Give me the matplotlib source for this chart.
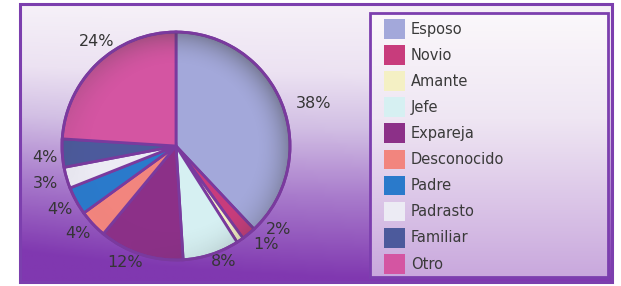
import matplotlib
matplotlib.use("Agg")
import matplotlib.pyplot as plt
import numpy as np
from matplotlib.colors import LinearSegmentedColormap
from matplotlib.patches import Rectangle, Circle

plt.rcParams["font.family"] = ["DejaVu Sans"]

# data
categories = ["Esposo", "Novio", "Amante", "Jefe", "Expareja",
              "Desconocido", "Padre", "Padrasto", "Familiar", "Otro"]
percent = [38, 2, 1, 8, 12, 4, 4, 3, 4, 24]
colors = ["#a3a8da", "#c83c7c", "#f4f0c4", "#d6f0f2", "#8c3088",
          "#f2857e", "#2a7acb", "#ecebf4", "#4c5a9c", "#d455a2"]

# label placement tweaks (angle shift in degrees, distance in radii)
label_shift = [-4.5, 11, 8.5, 4.5, -5.5, -1.5, 0, 0, 1.5, -6]
label_dist = [1.26, 1.16, 1.17, 1.10, 1.11, 1.15, 1.16, 1.19, 1.15, 1.15]

W, H = 621, 286
fig = plt.figure(figsize=(W / 100, H / 100), dpi=100)
fig.patch.set_facecolor("white")


def px_box(x0, y0, x1, y1):
    # pixel box (top-left origin) -> figure fraction rect
    return [x0 / W, 1 - y1 / H, (x1 - x0) / W, (y1 - y0) / H]


# gradient background inside the frame
bg = fig.add_axes(px_box(20, 4, 612, 282))
bg.set_axis_off()
bg_cmap = LinearSegmentedColormap.from_list(
    "bg", [(0.0, "#f6f1f8"), (0.25, "#ece2f2"), (0.45, "#d2bfe4"),
           (0.7, "#a97ccc"), (1.0, "#8038b0")])
yy = np.linspace(0, 1, 256)[:, None]
xx = np.linspace(0, 1, 64)[None, :]
grad = np.clip(yy + 0.12 * (1 - xx) ** 3 * yy, 0, 1)
bg.imshow(grad, cmap=bg_cmap, aspect="auto", extent=[0, 1, 1, 0], vmin=0, vmax=1)
bg.set_xlim(0, 1)
bg.set_ylim(1, 0)
bg.add_patch(Rectangle((0, 0), 1, 1, transform=bg.transAxes, fill=False,
                       edgecolor="#7c3fae", lw=2.2, clip_on=False))

# legend box with its own light gradient
lg = fig.add_axes(px_box(370, 13, 608, 277))
lg.set_axis_off()
lg_cmap = LinearSegmentedColormap.from_list(
    "lg", [(0.0, "#fbf8fb"), (0.4, "#efe6f3"), (1.0, "#c9a8dd")])
lg.imshow(np.linspace(0, 1, 256)[:, None], cmap=lg_cmap, aspect="auto",
          extent=[0, 1, 1, 0])
lg.set_xlim(0, 1)
lg.set_ylim(1, 0)
lg.add_patch(Rectangle((0, 0), 1, 1, transform=lg.transAxes, fill=False,
                       edgecolor="#7c3fae", lw=2.0, clip_on=False))

# pie
cx, cy, r = 176, 146, 114
half = 143
ax = fig.add_axes(px_box(cx - half, cy - half, cx + half, cy + half))
ax.set_axis_off()
wedges, _ = ax.pie(
    percent, colors=colors, startangle=90, counterclock=False,
    wedgeprops=dict(edgecolor="#7a3a9e", linewidth=2))
lim = half / r
ax.set_xlim(-lim, lim)
ax.set_ylim(-lim, lim)
ax.set_aspect("equal")

for w, p, dth, dist in zip(wedges, percent, label_shift, label_dist):
    ang = np.deg2rad((w.theta1 + w.theta2) / 2 + dth)
    ax.text(dist * np.cos(ang), dist * np.sin(ang), f"{p}%", ha="center",
            va="center", fontsize=11.5, color="#353535", clip_on=False)

# glossy rim shading on the pie
g = np.linspace(-1, 1, 300)
gx, gy = np.meshgrid(g, g)
rr = np.hypot(gx, gy)
shade = np.clip((rr - 0.7) / 0.3, 0, 1) ** 2 * np.clip(0.5 + 0.5 * (gx - gy) / 1.4, 0, 1)
rgba = np.zeros((300, 300, 4))
rgba[..., :3] = 0.25
rgba[..., 3] = 0.45 * shade
im = ax.imshow(rgba, extent=[-1, 1, -1, 1], origin="upper", zorder=3)
im.set_clip_path(Circle((0, 0), 1, transform=ax.transData))
ax.add_patch(Circle((0, 0), 1, fill=False, edgecolor="#7a3a9e", lw=2, zorder=4))

# legend entries
handles = [Rectangle((0, 0), 1, 1, facecolor=c, edgecolor="none") for c in colors]
leg = fig.legend(handles, categories, loc="upper left",
                 bbox_to_anchor=(384 / W, 1 - 19 / H), frameon=False,
                 borderaxespad=0, borderpad=0, fontsize=10.5, handlelength=1.45,
                 handleheight=1.7, handletextpad=0.4, labelspacing=0.44)
for t in leg.get_texts():
    t.set_color("#3a3a3a")

fig.savefig("out.png", dpi=100)
